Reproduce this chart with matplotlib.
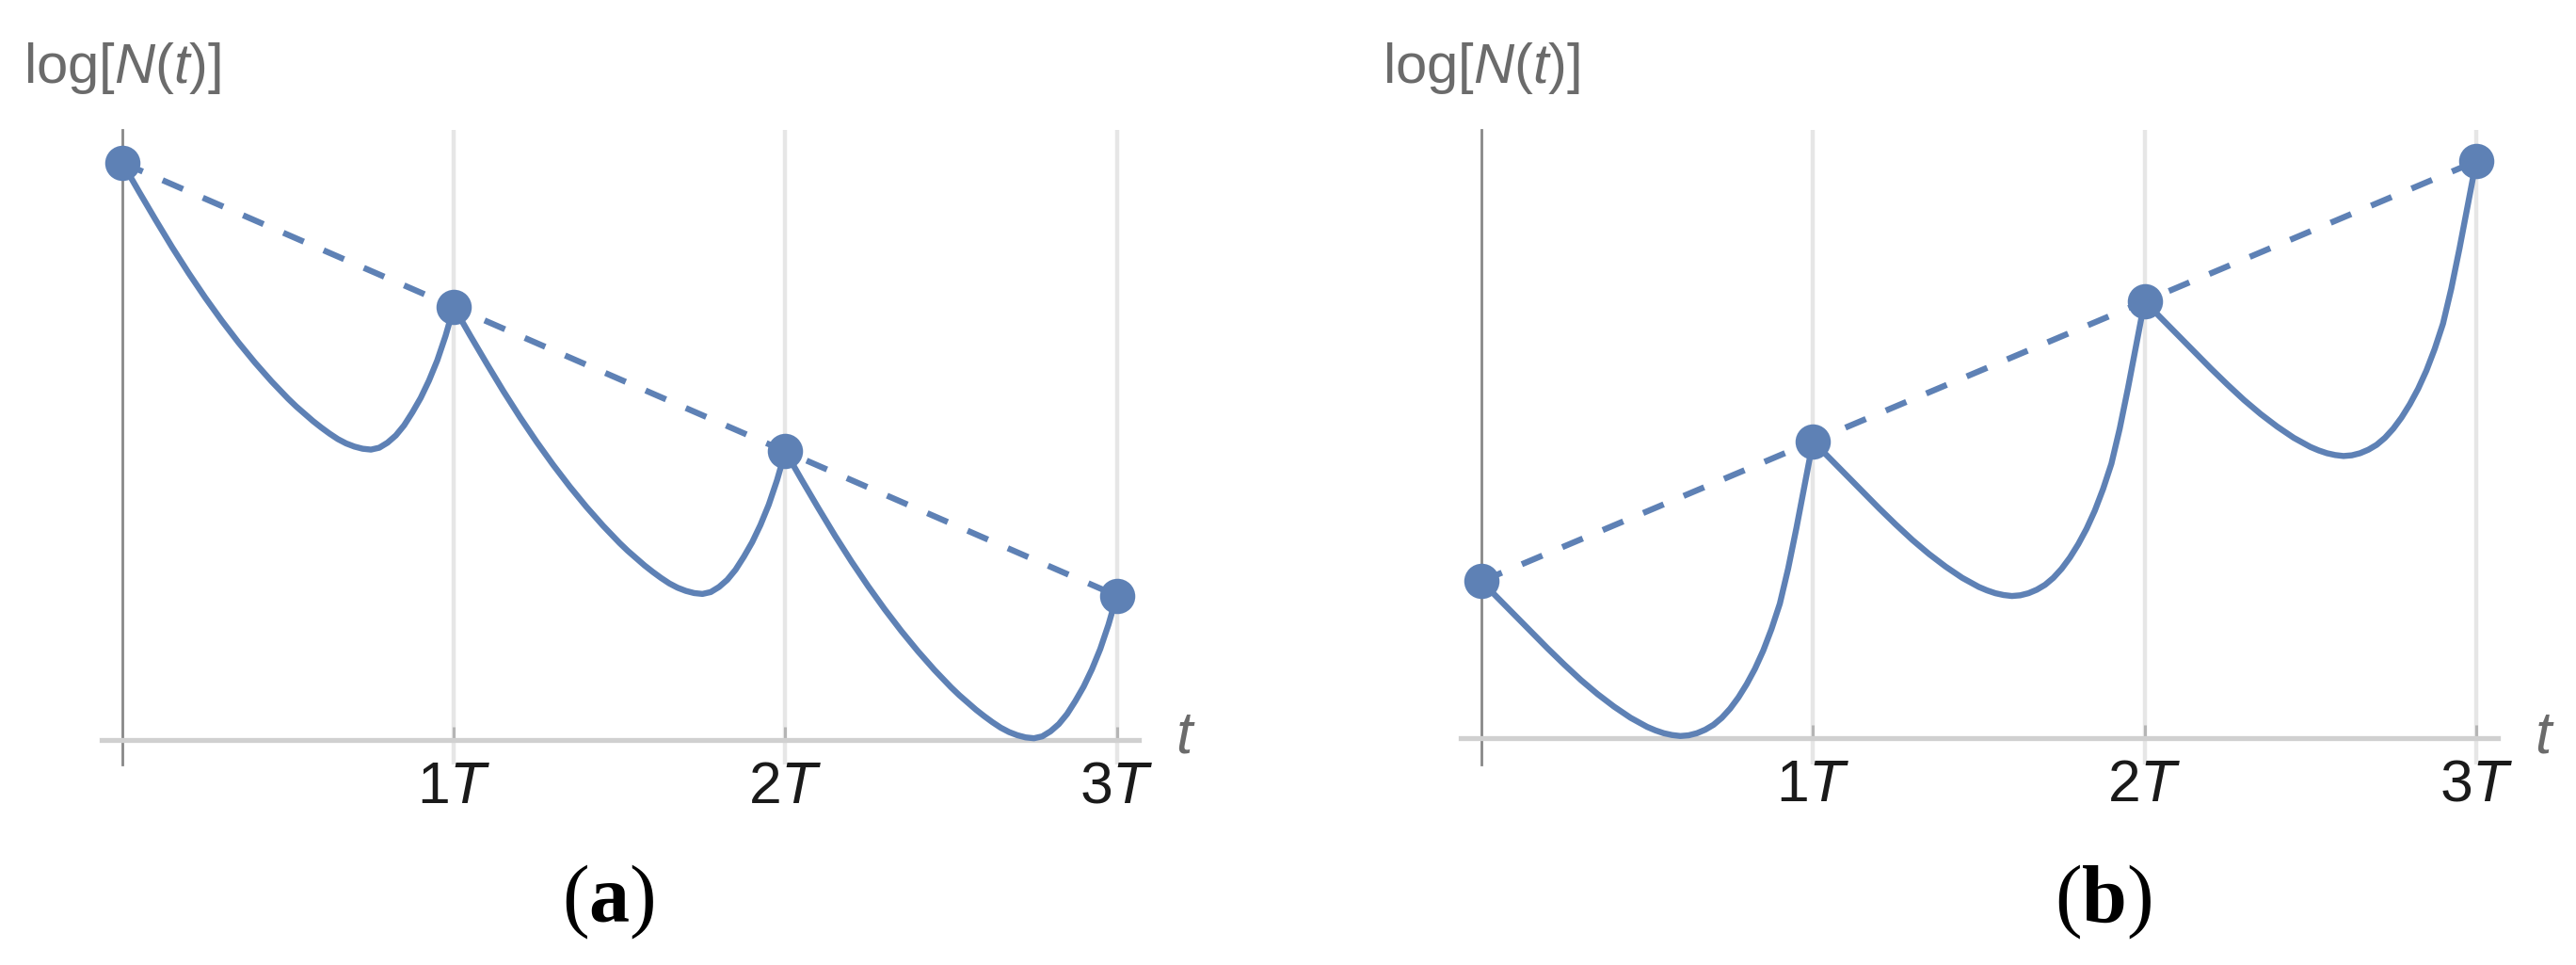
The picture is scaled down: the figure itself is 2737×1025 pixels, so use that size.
import numpy as np
import matplotlib.pyplot as plt

W, H = 2737, 1025
BLUE = '#5e81b5'

plt.rcParams['font.family'] = 'Liberation Sans'
plt.rcParams['mathtext.fontset'] = 'custom'
plt.rcParams['mathtext.rm'] = 'Liberation Sans'
plt.rcParams['mathtext.it'] = 'Liberation Sans:italic'
plt.rcParams['mathtext.bf'] = 'Liberation Serif:bold'

# log N at t = 0, 1T, 2T, 3T (the dots)
peaks_a = [4.0, 3.0, 2.0, 1.0]
peaks_b = [1.12, 2.12, 3.12, 4.12]

# one period of the solid curve:
# fraction of T since the period start, change of log N since the period start
shape_a_t = [0, .05, .10, .15, .20, .25, .30, .35, .40, .45, .50, .525, .55, .575, .60, .625,
             .65, .675, .70, .725, .75, .775, .80, .825, .85, .875, .90, .925, .95, .975, 1.0]
shape_a_dy = [0, -0.20, -0.395, -0.585, -0.765, -0.935, -1.095, -1.245, -1.385, -1.515, -1.635,
              -1.69, -1.74, -1.79, -1.835, -1.877, -1.915, -1.945, -1.967, -1.982, -1.988,
              -1.975, -1.94, -1.89, -1.82, -1.73, -1.63, -1.51, -1.37, -1.20, -1.0]

shape_b_t = [0, .05, .10, .15, .20, .25, .30, .35, .40, .45, .50, .525, .55, .575, .60, .625,
             .65, .675, .70, .725, .75, .775, .80, .825, .85, .875, .90, .925, .95, .975, 1.0]
shape_b_dy = [0, -0.12, -0.24, -0.36, -0.48, -0.595, -0.705, -0.805, -0.895, -0.975, -1.04,
              -1.065, -1.085, -1.098, -1.105, -1.10, -1.085, -1.06, -1.025, -0.975, -0.91,
              -0.83, -0.735, -0.625, -0.495, -0.34, -0.16, 0.09, 0.38, 0.69, 1.0]

tick_vals = [1, 2, 3]
tick_labels = ['1$T$', '2$T$', '3$T$']

fig = plt.figure(figsize=(W / 100, H / 100), dpi=100)


def make_panel(x0, y0, sx, sy, peaks, shape_t, shape_dy, tag, tag_x):
    """x0, y0: pixel of the origin; sx, sy: pixels per T and per unit of log N"""
    xlo, xhi = -0.0625, 3.066
    top_px, bot_px = 138, 812
    left = x0 + xlo * sx
    right = x0 + xhi * sx
    ax = fig.add_axes([left / W, 1 - bot_px / H, (right - left) / W, (bot_px - top_px) / H])
    ax.set_xlim(xlo, xhi)
    ax.set_ylim(-(bot_px - y0) / sy, (y0 - top_px) / sy)

    for s in ['top', 'right']:
        ax.spines[s].set_visible(False)
    ax.spines['left'].set_position(('data', 0))
    ax.spines['left'].set_color('#888888')
    ax.spines['left'].set_linewidth(2.0)
    ax.spines['bottom'].set_position(('data', 0))
    ax.spines['bottom'].set_color('#d0d0d0')
    ax.spines['bottom'].set_linewidth(3.8)
    ax.set_yticks([])
    ax.set_xticks(tick_vals, tick_labels)
    ax.tick_params(axis='x', direction='in', length=10, width=2.2, color='#b5b5b5',
                   labelsize=45, labelcolor='#1a1a1a', pad=15)
    for v in tick_vals:
        ax.axvline(v, color='#e6e6e6', lw=3.2, zorder=0)

    # solid curve, period by period
    t, y = [], []
    for k in range(3):
        t += [k + s for s in shape_t]
        y += [peaks[k] + d for d in shape_dy]
    ax.plot(t, y, color=BLUE, lw=4.6, solid_joinstyle='round', solid_capstyle='round',
            clip_on=False, zorder=3)

    ax.plot(range(4), peaks, color=BLUE, lw=4.6, dashes=(3.7, 3.6), dash_capstyle='butt', zorder=3)
    ax.plot(range(4), peaks, 'o', ms=27, color=BLUE, mec='none', clip_on=False, zorder=4)

    fig.text((x0 - 105) / W, 1 - 88 / H, 'log[$N$($t$)]', fontsize=43, color='#6b6b6b',
             ha='left', va='baseline')
    fig.text((x0 + 1130) / W, 1 - 783 / H, '$t$', fontsize=45, color='#6b6b6b',
             ha='center', va='center')
    fig.text(tag_x / W, 1 - 958 / H, '($\\mathbf{' + tag + '}$)', family='Liberation Serif',
             fontsize=62, ha='center', va='center')
    return ax


make_panel(130, 786, 352.2, 153.3, peaks_a, shape_a_t, shape_a_dy, 'a', 646)
make_panel(1574, 784, 352.3, 148.7, peaks_b, shape_b_t, shape_b_dy, 'b', 2235)

fig.savefig('out.png', dpi=100)
